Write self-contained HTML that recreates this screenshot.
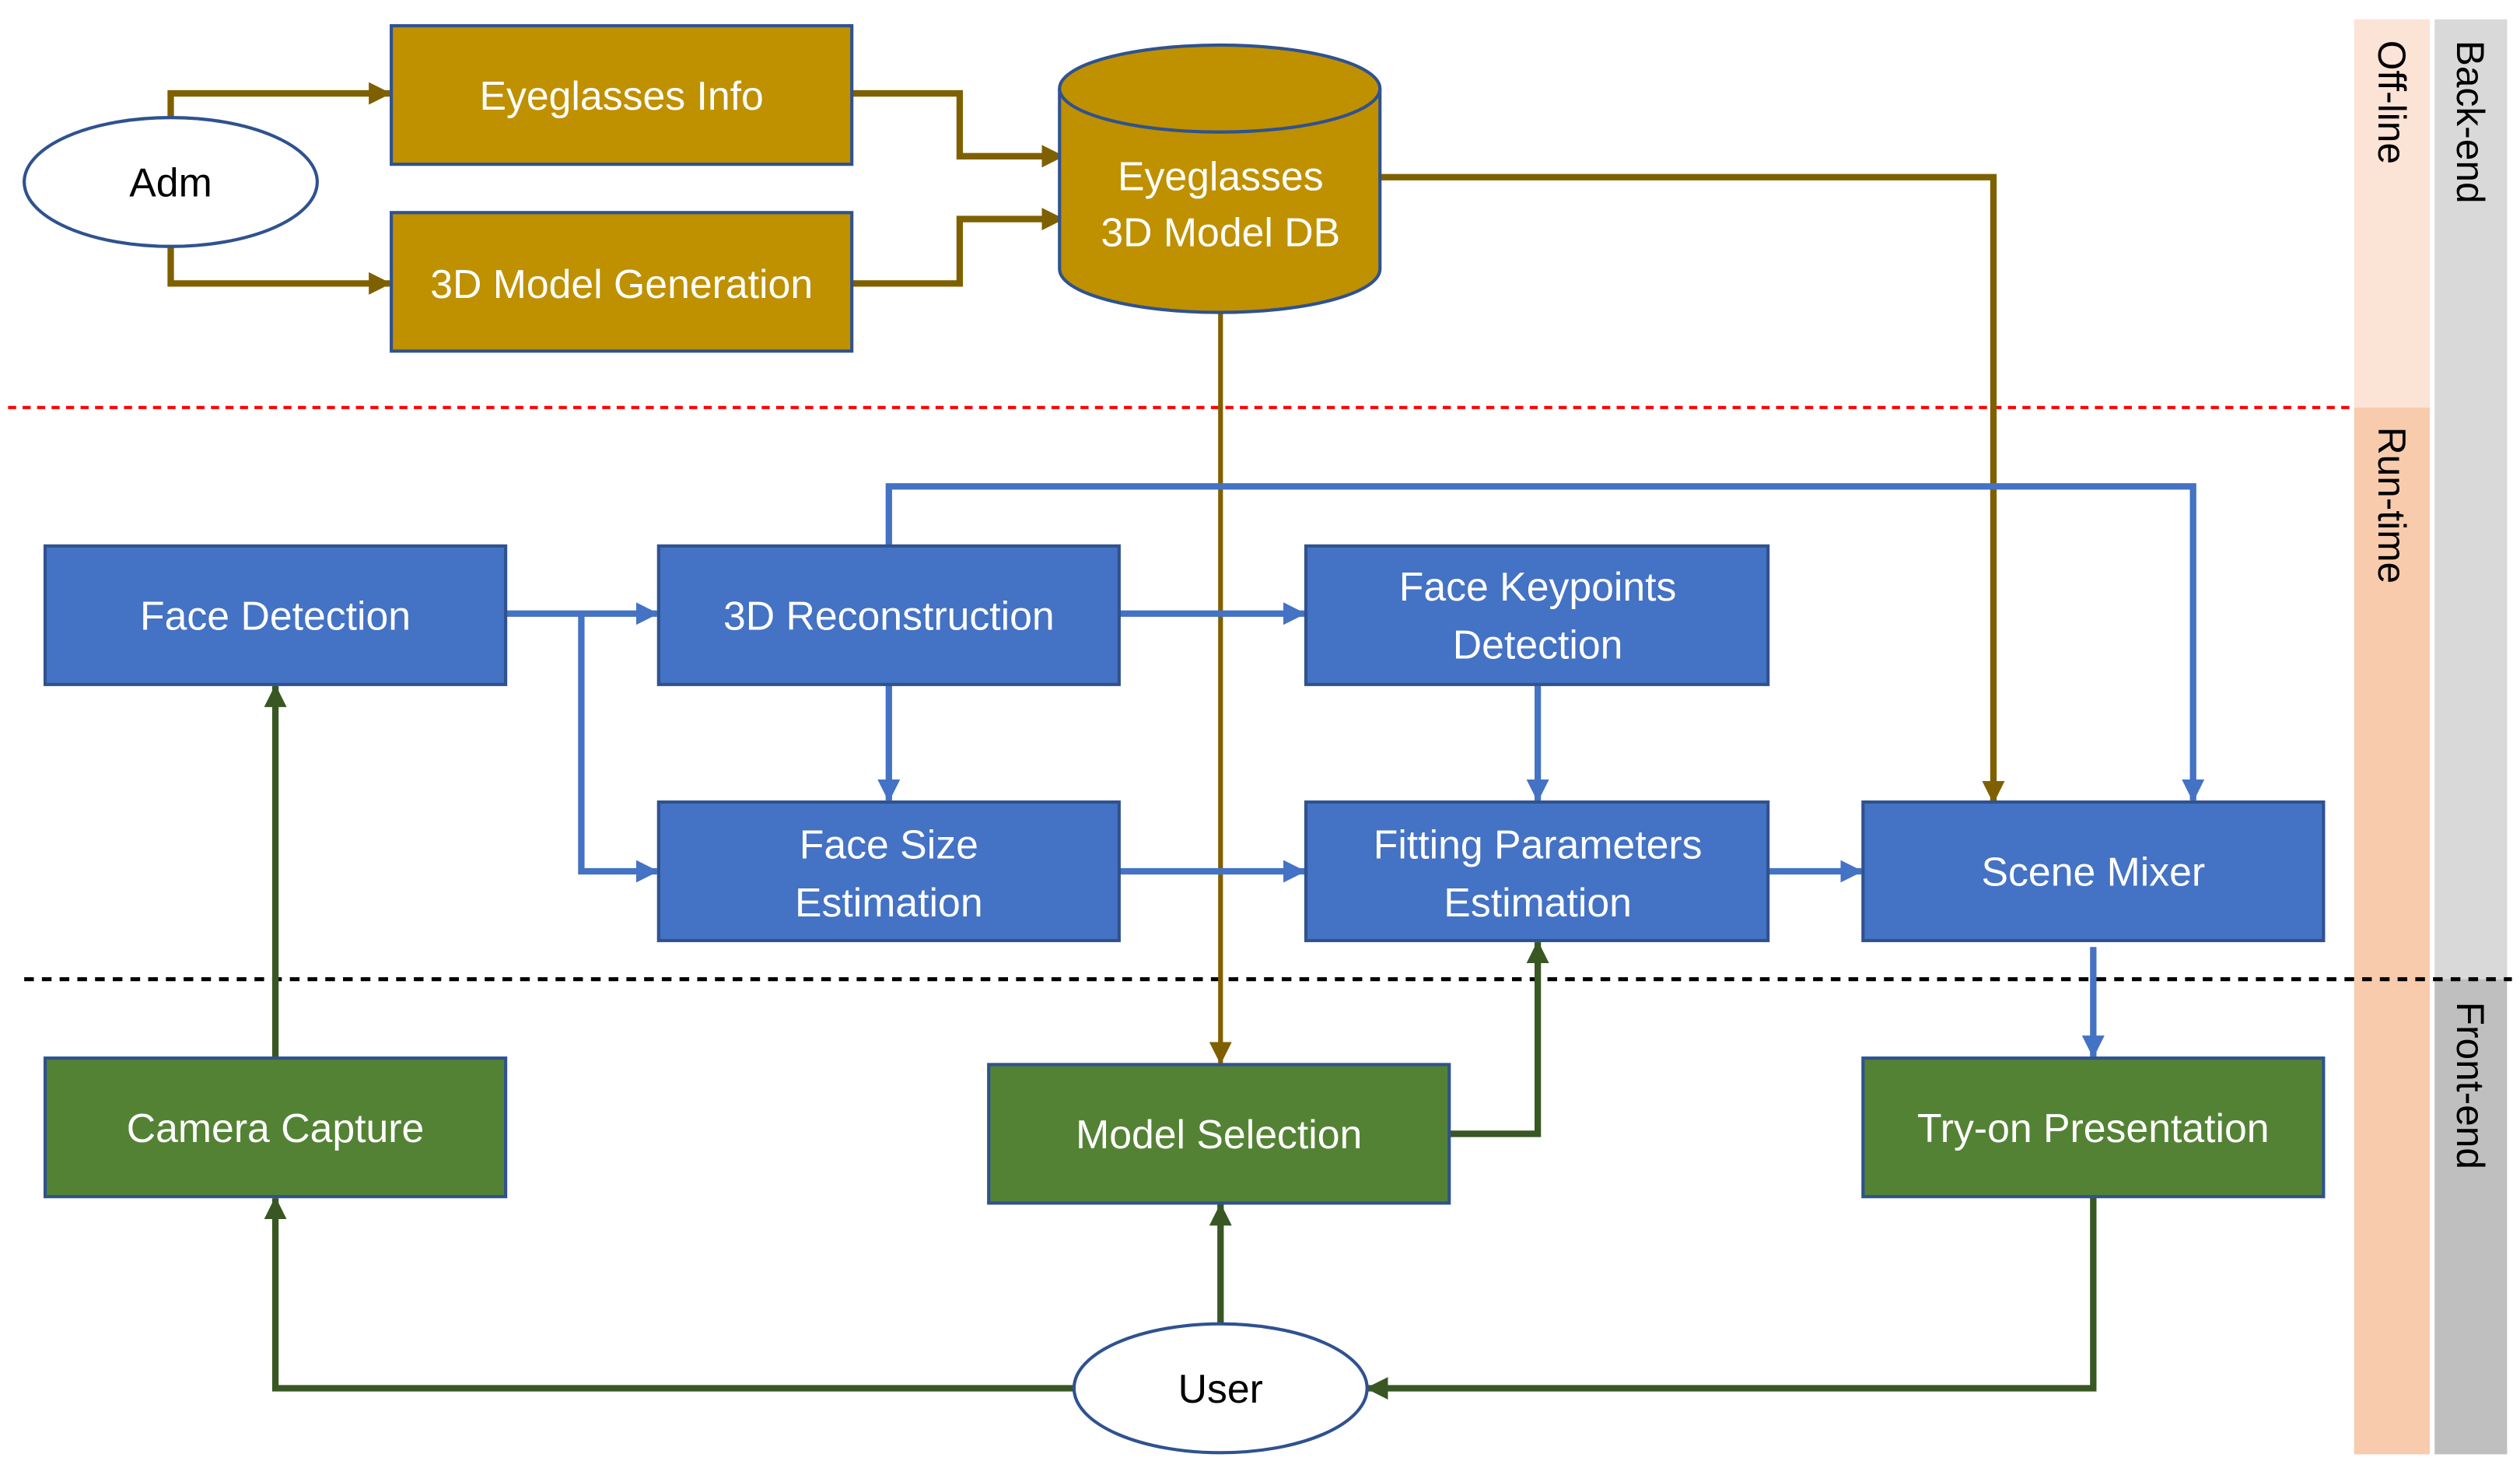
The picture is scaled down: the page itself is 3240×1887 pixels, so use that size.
<!DOCTYPE html>
<html><head><meta charset="utf-8"><style>
html,body{margin:0;padding:0;background:#fff;}
svg{display:block;}
text{font-family:"Liberation Sans",sans-serif;}
</style></head><body>
<svg width="3240" height="1887" viewBox="0 0 1565 911.5" xmlns="http://www.w3.org/2000/svg">
<defs>
<marker id="ag" markerWidth="14" markerHeight="14" refX="13" refY="7" orient="auto" markerUnits="userSpaceOnUse"><path d="M0,0 L14,7 L0,14 z" fill="#7F6000"/></marker>
<marker id="ab" markerWidth="14" markerHeight="14" refX="13" refY="7" orient="auto" markerUnits="userSpaceOnUse"><path d="M0,0 L14,7 L0,14 z" fill="#4472C4"/></marker>
<marker id="an" markerWidth="14" markerHeight="14" refX="13" refY="7" orient="auto" markerUnits="userSpaceOnUse"><path d="M0,0 L14,7 L0,14 z" fill="#385723"/></marker>
</defs>
<rect x="1462" y="12" width="47" height="241" fill="#FBE3D6"/>
<rect x="1462" y="253" width="47" height="650" fill="#F8CBAD"/>
<rect x="1512" y="12" width="45" height="596" fill="#D9D9D9"/>
<rect x="1512" y="608" width="45" height="295" fill="#BFBFBF"/>
<g font-size="24" fill="#000">
<text transform="translate(1477,25) rotate(90)">Off-line</text>
<text transform="translate(1477,265) rotate(90)">Run-time</text>
<text transform="translate(1526,25) rotate(90)">Back-end</text>
<text transform="translate(1526,622) rotate(90)">Front-end</text>
</g>
<line x1="5" y1="253" x2="1460" y2="253" stroke="#FF0000" stroke-width="2" stroke-dasharray="5,4"/>
<line x1="15" y1="608" x2="1560" y2="608" stroke="#000" stroke-width="2.5" stroke-dasharray="6,5"/>

<g stroke="#7F6000" stroke-width="4" fill="none" marker-end="url(#ag)">
<path d="M106,73 V58 H242"/>
<path d="M106,153 V176 H242"/>
<path d="M529,58 H596 V97 H660"/>
<path d="M529,176 H596 V136 H660"/>
<path d="M857,110 H1238 V498"/>
</g>
<path d="M758,194 V660" stroke="#7F6000" stroke-width="3" fill="none" marker-end="url(#ag)"/>
<g stroke="#4472C4" stroke-width="4" fill="none" marker-end="url(#ab)">
<path d="M314,381 H408"/>
<path d="M361,381 V541 H408"/>
<path d="M695,381 H810"/>
<path d="M552,339 V302 H1362 V497"/>
<path d="M552,425 V497"/>
<path d="M955,425 V497"/>
<path d="M695,541 H810"/>
<path d="M1098,541 H1156"/>
<path d="M1300,588 V656"/>
</g>
<g stroke="#385723" stroke-width="4" fill="none" marker-end="url(#an)">
<path d="M171,657 V426"/>
<path d="M900,704 H955 V585"/>
<path d="M758,822 V748"/>
<path d="M667,862 H171 V744"/>
<path d="M1300,743 V862 H849"/>
</g>

<ellipse cx="106" cy="113" rx="91" ry="40" fill="#fff" stroke="#2F528F" stroke-width="2"/>
<text x="106" y="122" font-size="25" text-anchor="middle">Adm</text>
<ellipse cx="758" cy="862" rx="91" ry="40" fill="#fff" stroke="#2F528F" stroke-width="2"/>
<text x="758" y="871" font-size="25" text-anchor="middle">User</text>

<g stroke="#2F528F" stroke-width="2" fill="#BF9000">
<rect x="243" y="16" width="286" height="86"/>
<rect x="243" y="132" width="286" height="86"/>
<path d="M658,55 V167 A99.5,27 0 0 0 857,167 V55"/>
<ellipse cx="757.5" cy="55" rx="99.5" ry="27"/>
</g>
<g fill="#fff" font-size="25" text-anchor="middle">
<text x="386" y="68">Eyeglasses Info</text>
<text x="386" y="185">3D Model Generation</text>
<text x="758" y="118">Eyeglasses</text>
<text x="758" y="153">3D Model DB</text>
</g>

<g stroke="#2F528F" stroke-width="2" fill="#4472C4">
<rect x="28" y="339" width="286" height="86"/>
<rect x="409" y="339" width="286" height="86"/>
<rect x="811" y="339" width="287" height="86"/>
<rect x="409" y="498" width="286" height="86"/>
<rect x="811" y="498" width="287" height="86"/>
<rect x="1157" y="498" width="286" height="86"/>
</g>
<g stroke="#2F528F" stroke-width="2" fill="#548235">
<rect x="28" y="657" width="286" height="86"/>
<rect x="614" y="661" width="286" height="86"/>
<rect x="1157" y="657" width="286" height="86"/>
</g>
<g fill="#fff" font-size="25" text-anchor="middle">
<text x="171" y="391">Face Detection</text>
<text x="552" y="391">3D Reconstruction</text>
<text x="955" y="373">Face Keypoints</text>
<text x="955" y="409">Detection</text>
<text x="552" y="533">Face Size</text>
<text x="552" y="569">Estimation</text>
<text x="955" y="533">Fitting Parameters</text>
<text x="955" y="569">Estimation</text>
<text x="1300" y="550">Scene Mixer</text>
<text x="171" y="709">Camera Capture</text>
<text x="757" y="713">Model Selection</text>
<text x="1300" y="709">Try-on Presentation</text>
</g>
</svg>
</body></html>
